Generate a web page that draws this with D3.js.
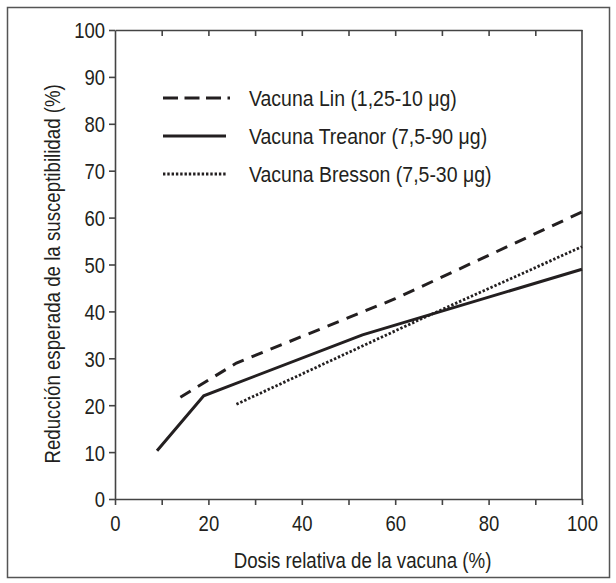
<!DOCTYPE html>
<html>
<head>
<meta charset="utf-8">
<script src="https://cdn.jsdelivr.net/npm/d3@7"></script>
<style>
  body { margin: 0; background: #fff; }
  text { font-family: "Liberation Sans", Arial, sans-serif; fill: #231f20; }
</style>
</head>
<body>
<div id="chart"></div>
<script>
// data
const linData = [[14, 21.7], [26, 29.0], [60, 42.7], [100, 61.2]];
const treanorData = [[9, 10.3], [19, 22.0], [53, 35.0], [100, 49.0]];
const bressonData = [[26, 20.2], [66, 38.6], [100, 53.8]];
const seriesNames = ["Vacuna Lin (1,25-10 \u03bcg)", "Vacuna Treanor (7,5-90 \u03bcg)", "Vacuna Bresson (7,5-30 \u03bcg)"];
const xTicks = [0, 10, 20, 30, 40, 50, 60, 70, 80, 90, 100];
const xLabels = [0, 20, 40, 60, 80, 100];
const yTicks = [0, 10, 20, 30, 40, 50, 60, 70, 80, 90, 100];

const width = 616, height = 583;
const margin = {top: 30, right: 34, bottom: 84, left: 115};
const innerW = width - margin.left - margin.right;
const innerH = height - margin.top - margin.bottom;
const fontSize = "22px";

const svg = d3.select("#chart").append("svg")
  .attr("width", width)
  .attr("height", height);

// outer frame
svg.append("rect")
  .attr("x", 7.5).attr("y", 7.5)
  .attr("width", 602).attr("height", 570)
  .attr("fill", "none")
  .attr("stroke", "#555")
  .attr("stroke-width", 1.5);

const g = svg.append("g")
  .attr("transform", `translate(${margin.left},${margin.top})`);

const x = d3.scaleLinear().domain([0, 100]).range([0, innerW]);
const y = d3.scaleLinear().domain([0, 100]).range([innerH, 0]);

const axisColor = "#444";

// bottom axis
const xAxis = g.append("g")
  .call(d3.axisBottom(x).tickValues(xTicks).tickSize(6).tickSizeOuter(0)
    .tickFormat(d => xLabels.includes(d) ? d : ""));
xAxis.attr("transform", `translate(0,${innerH})`);
xAxis.selectAll("text").attr("y", 15).attr("dy", "0.78em");

// left axis
const yAxis = g.append("g")
  .call(d3.axisLeft(y).tickValues(yTicks).tickSize(6).tickSizeOuter(0));
yAxis.selectAll("text").attr("x", -10).attr("dy", "0.36em");

// top axis, ticks pointing inside
g.append("g")
  .call(d3.axisBottom(x).tickValues(xTicks.slice(1, -1)).tickSize(6).tickSizeOuter(0).tickFormat(""));

// right edge
g.append("line")
  .attr("x1", innerW).attr("x2", innerW)
  .attr("y1", 0).attr("y2", innerH);

g.selectAll(".domain, .tick line, line")
  .attr("stroke", axisColor)
  .attr("stroke-width", 1.6);
g.selectAll(".tick text")
  .style("font-size", fontSize)
  .attr("fill", "#231f20")
  .attr("data-squeeze", 0.84);

const line = d3.line().x(d => x(d[0])).y(d => y(d[1]));

const series = [
  {data: linData, dash: "12,8.5", legendDash: "15,6.5", width: 3},
  {data: treanorData, dash: null, legendDash: null, width: 3},
  {data: bressonData, dash: "2.4,1.9", legendDash: "2.4,1.9", width: 2.8}
];

g.selectAll(".series")
  .data(series)
  .enter()
  .append("path")
  .attr("class", "series")
  .attr("d", d => line(d.data))
  .attr("fill", "none")
  .attr("stroke", "#231f20")
  .attr("stroke-width", d => d.width)
  .attr("stroke-dasharray", d => d.dash);

// legend
const legend = svg.append("g").attr("transform", "translate(163,97)");
const items = legend.selectAll(".item")
  .data(series)
  .enter()
  .append("g")
  .attr("class", "item")
  .attr("transform", (d, i) => `translate(0,${i * 38})`);

items.append("line")
  .attr("x1", 0).attr("x2", (d, i) => i === 0 ? 67 : 63)
  .attr("y1", 1).attr("y2", 1)
  .attr("stroke", "#231f20")
  .attr("stroke-width", d => d.width)
  .attr("stroke-dasharray", d => d.legendDash);

items.append("text")
  .attr("x", 86)
  .attr("y", 8.5)
  .style("font-size", fontSize)
  .attr("data-squeeze", 0.885)
  .text((d, i) => seriesNames[i]);

// axis titles
svg.append("text")
  .attr("x", margin.left + x(53))
  .attr("y", 568)
  .attr("text-anchor", "middle")
  .style("font-size", fontSize)
  .attr("data-squeeze", 0.85)
  .text("Dosis relativa de la vacuna (%)");

svg.append("text")
  .attr("transform", `translate(60,${margin.top + y(48)}) rotate(-90)`)
  .attr("text-anchor", "middle")
  .style("font-size", fontSize)
  .attr("data-squeeze", 0.85)
  .text("Reducción esperada de la susceptibilidad (%)");

// squeeze glyphs to get the condensed look of the original typeface
svg.selectAll("text").each(function() {
  const el = d3.select(this);
  if (!el.text()) return;
  const k = +el.attr("data-squeeze") || 0.85;
  el.attr("textLength", this.getComputedTextLength() * k)
    .attr("lengthAdjust", "spacingAndGlyphs");
});
</script>
</body>
</html>
